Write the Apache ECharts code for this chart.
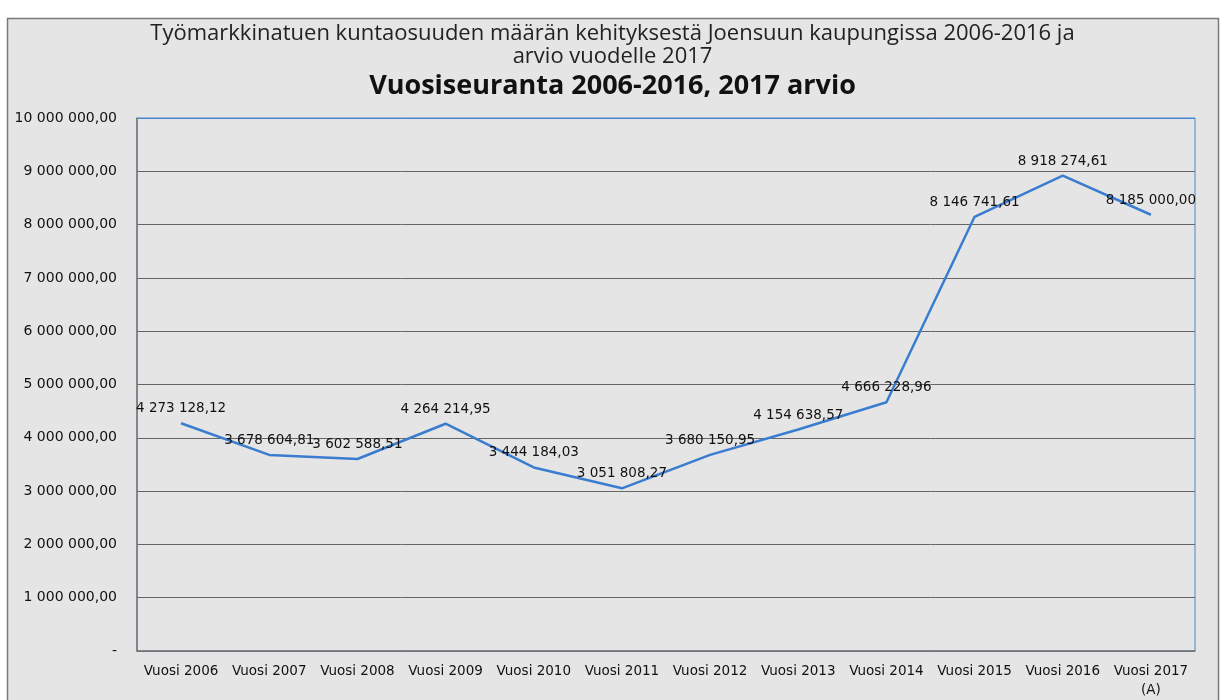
<!DOCTYPE html>
<html>
<head>
<meta charset="utf-8">
<script src="https://cdn.jsdelivr.net/npm/echarts@6/dist/echarts.min.js"></script>
<style>
html,body{margin:0;padding:0;background:#ffffff;}
#chart{width:1225px;height:700px;}
</style>
</head>
<body>
<div id="chart"></div>
<script>
var categories = ["Vuosi 2006","Vuosi 2007","Vuosi 2008","Vuosi 2009","Vuosi 2010","Vuosi 2011","Vuosi 2012","Vuosi 2013","Vuosi 2014","Vuosi 2015","Vuosi 2016","Vuosi 2017\n(A)"];
var values = [4273128.12, 3678604.81, 3602588.51, 4264214.95, 3444184.03, 3051808.27, 3680150.95, 4154638.57, 4666228.96, 8146741.61, 8918274.61, 8185000.00];
var titleLine1 = "Työmarkkinatuen kuntaosuuden määrän kehityksestä Joensuun kaupungissa 2006-2016 ja\narvio vuodelle 2017";
var titleLine2 = "Vuosiseuranta 2006-2016, 2017 arvio";

function fmt(v){
  if (v === 0) return "-";
  var parts = v.toFixed(2).split(".");
  var ip = parts[0].replace(/\B(?=(\d{3})+(?!\d))/g, " ");
  return ip + "," + parts[1];
}

var gridColors = ['#666','#666','#666','#666','#666','#666','#666','#666','#666','#666','#4a86d0'];

var chart = echarts.init(document.getElementById('chart'));
chart.setOption({
  backgroundColor: '#ffffff',
  animation: false,
  graphic: [{
    type: 'rect', z: -10, silent: true,
    shape: {x: 7.5, y: 18.5, width: 1211, height: 700},
    style: {fill: '#e5e5e5', stroke: '#7a7a7a', lineWidth: 1.5}
  }],
  title: [{
    text: titleLine1, left: 'center', top: 17,
    textStyle: {fontFamily: 'Open Sans', fontSize: 22, fontWeight: 'normal', color: '#222', lineHeight: 23}
  }, {
    text: titleLine2, left: 'center', top: 68,
    textStyle: {fontFamily: 'Open Sans', fontSize: 27, fontWeight: 'bold', color: '#111'}
  }],
  grid: {left: 137, right: 30, top: 118, bottom: 45, show: true, borderColor: '#4a86d0', borderWidth: 1, backgroundColor: 'transparent'},
  xAxis: {
    type: 'category', data: categories, boundaryGap: true,
    axisLine: {lineStyle: {color: '#777', width: 1.5}},
    axisTick: {show: false},
    axisLabel: {fontFamily: 'DejaVu Sans', fontSize: 13.5, color: '#111', margin: 11, lineHeight: 19, interval: 0}
  },
  yAxis: {
    type: 'value', min: 0, max: 10000000, interval: 1000000,
    axisLine: {show: true, lineStyle: {color: '#777', width: 1.5}},
    axisTick: {show: false},
    splitLine: {lineStyle: {color: gridColors, width: 1}},
    axisLabel: {fontFamily: 'DejaVu Sans', fontSize: 14, color: '#111', margin: 20, formatter: fmt}
  },
  series: [{
    type: 'line', data: values, symbol: 'circle', symbolSize: 1, showSymbol: true,
    itemStyle: {color: 'rgba(0,0,0,0)'},
    lineStyle: {color: '#3a7dd0', width: 2.5},
    label: {show: true, position: 'top', distance: 7, formatter: function(p){return fmt(p.value);},
      fontFamily: 'DejaVu Sans', fontSize: 13.5, color: '#111'}
  }]
});
</script>
</body>
</html>
